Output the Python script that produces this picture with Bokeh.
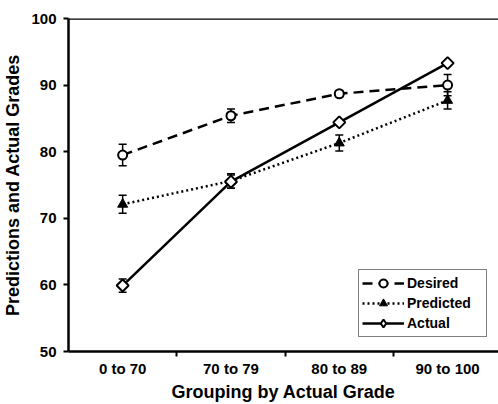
from bokeh.plotting import figure
from bokeh.models import (ColumnDataSource, Range1d, FixedTicker, Whisker, TeeHead,
                          Legend, LegendItem, Span)
from bokeh.embed import file_html
from bokeh.resources import INLINE
import math

categories = ["0 to 70", "70 to 79", "80 to 89", "90 to 100"]
desired = [79.5, 85.4, 88.7, 90.0]
desired_err = [1.6, 1.0, 0.4, 1.6]
predicted = [72.1, 75.6, 81.3, 87.7]
predicted_err = [1.35, 1.1, 1.2, 1.3]
actual = [59.9, 75.5, 84.4, 93.3]
actual_err = [1.0, 1.0, 0.3, 0.3]
y_ticks = [50, 60, 70, 80, 90, 100]

xpos = [i + 0.5 for i in range(len(categories))]
FONT = "Liberation Sans"

p = figure(width=498, height=404, output_backend="svg", toolbar_location=None,
           x_range=Range1d(0, 3.97), y_range=Range1d(50, 100),
           min_border_left=68, min_border_right=0, min_border_top=18, min_border_bottom=51)
p.grid.visible = False
p.outline_line_color = None
p.background_fill_color = "white"

# top border line
p.add_layout(Span(location=100, dimension="width", line_color="black", line_width=2.5))

def make_src(vals, errs):
    return ColumnDataSource(dict(x=xpos, y=vals,
                                 upper=[v + e for v, e in zip(vals, errs)],
                                 lower=[v - e for v, e in zip(vals, errs)]))

src_d = make_src(desired, desired_err)
src_p = make_src(predicted, predicted_err)
src_a = make_src(actual, actual_err)

for src in (src_d, src_p, src_a):
    w = Whisker(source=src, base="x", upper="upper", lower="lower",
                line_color="black", line_width=1.5,
                upper_head=TeeHead(size=8, line_width=1.5, line_color="black"),
                lower_head=TeeHead(size=8, line_width=1.5, line_color="black"))
    p.add_layout(w)

l_d = p.line("x", "y", source=src_d, line_color="black", line_width=2.5, line_dash="10 6")
l_p = p.line("x", "y", source=src_p, line_color="black", line_width=2.5, line_dash="2 3")
l_a = p.line("x", "y", source=src_a, line_color="black", line_width=2.5)

m_d = p.scatter("x", "y", source=src_d, marker="circle", size=9, fill_color="white",
                line_color="black", line_width=2)
m_p = p.scatter("x", "y", source=src_p, marker="triangle", size=10, fill_color="black",
                line_color="black", line_width=1)
# diamond used for the legend glyph; hidden beneath the rotated squares on the plot
leg_a = p.scatter("x", "y", source=src_a, marker="diamond", size=10, fill_color="white",
                  line_color="black", line_width=2)
m_a = p.scatter("x", "y", source=src_a, marker="square", size=8.5, angle=math.pi / 4,
                fill_color="white", line_color="black", line_width=2)

# axes
xa = p.xaxis[0]
xa.ticker = FixedTicker(ticks=xpos, minor_ticks=[1, 2, 3])
xa.major_label_overrides = {x: c for x, c in zip(xpos, categories)}
xa.major_tick_line_color = None
xa.major_tick_out = 5
xa.major_tick_in = 0
xa.minor_tick_line_color = "black"
xa.minor_tick_line_width = 2
xa.minor_tick_out = 5
xa.minor_tick_in = 0
xa.major_label_standoff = 3
xa.axis_label = "Grouping by Actual Grade"
xa.axis_label_standoff = 2

ya = p.yaxis[0]
ya.ticker = FixedTicker(ticks=y_ticks)
ya.minor_tick_line_color = None
ya.major_tick_line_width = 2
ya.major_tick_out = 5
ya.major_tick_in = 0
ya.major_label_standoff = 7
ya.axis_label = "Predictions and Actual Grades"
ya.axis_label_standoff = 5

for ax in (xa, ya):
    ax.axis_line_width = 2.5
    ax.axis_line_color = "black"
    ax.major_label_text_font = FONT
    ax.major_label_text_font_style = "bold"
    ax.major_label_text_font_size = "15px"
    ax.major_label_text_color = "black"
    ax.axis_label_text_font = FONT
    ax.axis_label_text_font_style = "bold"
    ax.axis_label_text_font_size = "18px"
    ax.axis_label_text_color = "black"

legend = Legend(items=[
    LegendItem(label="Desired", renderers=[l_d, m_d]),
    LegendItem(label="Predicted", renderers=[l_p, m_p]),
    LegendItem(label="Actual", renderers=[l_a, leg_a]),
], location=(290, 14))
legend.border_line_color = "black"
legend.border_line_width = 1.5
legend.background_fill_alpha = 1
legend.padding = 3
legend.spacing = 0
legend.margin = 0
legend.glyph_width = 42
legend.glyph_height = 20
legend.label_height = 20
legend.label_width = 76
legend.label_standoff = 3
legend.label_text_font = FONT
legend.label_text_font_style = "bold"
legend.label_text_font_size = "14px"
legend.label_text_color = "black"
p.add_layout(legend)

open("out.html", "w").write(file_html(p, INLINE))
